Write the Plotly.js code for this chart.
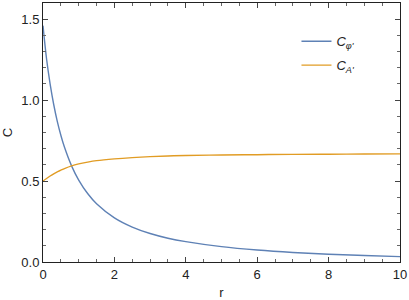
<!DOCTYPE html>
<html>
<head>
<meta charset="utf-8">
<script src="https://cdn.plot.ly/plotly-3.0.1.min.js"></script>
<style>html,body{margin:0;padding:0;background:#fff;}#chart{width:409px;height:300px;}</style>
</head>
<body>
<div id="chart"></div>
<script>
var rValues = [0, 0.1, 0.2, 0.3, 0.4, 0.5, 0.6, 0.8, 1.0, 1.25, 1.5, 2, 2.5, 3, 3.5, 4, 5, 6, 7, 8, 9, 10];
var cPhi = [1.46, 1.254, 1.099, 0.973, 0.869, 0.783, 0.710, 0.594, 0.506, 0.423, 0.360, 0.273, 0.216, 0.176, 0.147, 0.126, 0.095, 0.074, 0.059, 0.048, 0.040, 0.033];
var cA = [0.500, 0.516, 0.531, 0.545, 0.557, 0.567, 0.577, 0.594, 0.606, 0.617, 0.626, 0.637, 0.645, 0.651, 0.655, 0.658, 0.661, 0.663, 0.665, 0.666, 0.667, 0.668];
var seriesNames = ["<i>C</i><sub><i>φ'</i></sub>", "<i>C</i><sub><i>A'</i></sub>"];
var xTicks = [0, 2, 4, 6, 8, 10];
var yTicks = [0, 0.5, 1.0, 1.5];

var traces = [
  {x: rValues, y: cPhi, name: seriesNames[0], legendgroup: 'g1', mode: 'lines', line: {color: '#5E81B5', width: 1.4, shape: 'spline'}},
  {x: rValues, y: cA, name: seriesNames[1], legendgroup: 'g2', mode: 'lines', line: {color: '#E19C24', width: 1.4, shape: 'spline'}}
];

var fontFam = 'Liberation Sans, Arial, sans-serif';
var axisCommon = {
  showgrid: false, zeroline: false, showline: true, linecolor: '#222', linewidth: 1,
  mirror: 'allticks', ticks: 'inside', ticklen: 5, tickcolor: '#444', tickwidth: 1,
  tickfont: {family: fontFam, size: 13, color: '#222'}
};

var layout = {
  width: 409, height: 300,
  margin: {l: 43, r: 9, t: 3, b: 38},
  paper_bgcolor: '#fff', plot_bgcolor: '#fff',
  showlegend: true,
  legend: {x: 0.71, y: 0.91, xanchor: 'left', yanchor: 'top', bgcolor: 'rgba(0,0,0,0)',
           font: {family: fontFam, size: 13, color: '#222'}, tracegroupgap: 4},
  xaxis: Object.assign({}, axisCommon, {
    range: [0, 10], tickvals: xTicks, ticktext: xTicks.map(String),
    minor: {dtick: 0.5, ticks: 'inside', ticklen: 3, tickcolor: '#666', tickwidth: 1},
    title: {text: 'r', standoff: 8, font: {family: fontFam, size: 13, color: '#222'}}
  }),
  yaxis: Object.assign({}, axisCommon, {
    range: [0, 1.6], tickvals: yTicks, ticktext: yTicks.map(function(v){return v.toFixed(1);}),
    minor: {dtick: 0.1, ticks: 'inside', ticklen: 3, tickcolor: '#666', tickwidth: 1},
    title: {text: 'C', standoff: 10, font: {family: fontFam, size: 13, color: '#222'}}
  })
};

Plotly.newPlot('chart', traces, layout, {displayModeBar: false, staticPlot: true});
</script>
</body>
</html>
